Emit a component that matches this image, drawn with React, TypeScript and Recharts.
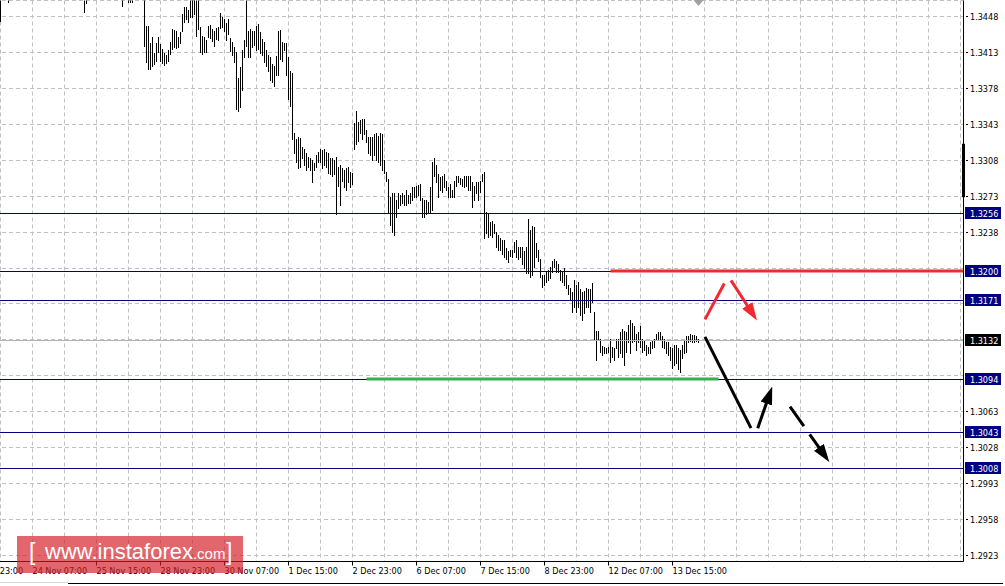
import React from "react";
import {
  ComposedChart,
  Bar,
  Line,
  XAxis,
  YAxis,
  CartesianGrid,
  ReferenceLine,
  ReferenceDot,
} from "recharts";

// ---- hourly bars (USD/CAD, H1): highs and lows, bar index = hour ----
const highs = [
  1.3472, 1.3478, 1.3484, 1.348, 1.3476, 1.3482, 1.3488, 1.349, 1.3486, 1.3492,
  1.3498, 1.3495, 1.3502, 1.3507, 1.3504, 1.351, 1.3513, 1.3508, 1.3505, 1.35,
  1.3503, 1.3509, 1.3512, 1.3506, 1.3501, 1.3497, 1.3494, 1.3499, 1.3496, 1.3491,
  1.3487, 1.3493, 1.3497, 1.3494, 1.3489, 1.3485, 1.3488, 1.3483, 1.3486, 1.3481,
  1.3484, 1.3479, 1.3477, 1.3474, 1.348, 1.3486, 1.3491, 1.3495, 1.3489, 1.3493,
  1.3499, 1.3502, 1.3497, 1.3492, 1.3487, 1.349, 1.3485, 1.3482, 1.3488, 1.3484,
  1.3479, 1.3475, 1.3481, 1.3478, 1.3474, 1.3473, 1.3476, 1.3483, 1.3489, 1.3486,
  1.3481, 1.3477, 1.3478, 1.3438, 1.3438, 1.3422, 1.3428, 1.3412, 1.3422, 1.3428,
  1.3421, 1.3416, 1.3412, 1.341, 1.3415, 1.3423, 1.3435, 1.3434, 1.3433, 1.3428,
  1.3432, 1.345, 1.3457, 1.3457, 1.3454, 1.3468, 1.347, 1.3466, 1.3472, 1.3467,
  1.3437, 1.3429, 1.3428, 1.3425, 1.3438, 1.3439, 1.3435, 1.3433, 1.3436, 1.3437,
  1.3451, 1.3447, 1.3445, 1.3441, 1.3445, 1.3427, 1.3423, 1.3418, 1.3413, 1.3388,
  1.3398, 1.3415, 1.3425, 1.3468, 1.3433, 1.3435, 1.3433, 1.3433, 1.3438, 1.344,
  1.3432, 1.3426, 1.3423, 1.3415, 1.341, 1.3408, 1.3401, 1.3399, 1.3409, 1.3433,
  1.3434, 1.3423, 1.3422, 1.3422, 1.3408, 1.3394, 1.3392, 1.3334, 1.3328, 1.333,
  1.3329, 1.332, 1.3318, 1.3315, 1.3311, 1.331, 1.3308, 1.3305, 1.3313, 1.3316,
  1.3318, 1.3317, 1.3318, 1.3316, 1.3315, 1.331, 1.331, 1.3308, 1.3311, 1.3301,
  1.3303, 1.33, 1.3298, 1.33, 1.3301, 1.3296, 1.3295, 1.3344, 1.3355, 1.3345,
  1.3347, 1.3348, 1.3348, 1.3337, 1.333, 1.333, 1.333, 1.3333, 1.3334, 1.3331,
  1.3334, 1.3333, 1.3308, 1.3296, 1.3289, 1.3272, 1.3276, 1.3276, 1.3269, 1.3276,
  1.3274, 1.3276, 1.3274, 1.3279, 1.3274, 1.3276, 1.3281, 1.3281, 1.3282, 1.3283,
  1.3284, 1.3271, 1.3269, 1.3269, 1.3267, 1.3281, 1.3306, 1.331, 1.3303, 1.3294,
  1.3291, 1.3292, 1.3294, 1.3287, 1.3281, 1.3284, 1.3279, 1.3287, 1.3292, 1.3292,
  1.329, 1.3289, 1.3292, 1.3292, 1.3292, 1.3292, 1.3286, 1.3282, 1.3286, 1.3286,
  1.3287, 1.3294, 1.3296, 1.3257, 1.3255, 1.3247, 1.3248, 1.3245, 1.3238, 1.3235,
  1.3232, 1.323, 1.323, 1.3222, 1.3219, 1.322, 1.322, 1.3228, 1.323, 1.3223,
  1.3223, 1.3223, 1.3219, 1.3223, 1.325, 1.324, 1.3243, 1.3242, 1.3227, 1.322,
  1.3211, 1.3196, 1.3196, 1.3199, 1.3201, 1.3204, 1.3209, 1.3211, 1.3209, 1.3206,
  1.3201, 1.3199, 1.3203, 1.3196, 1.3186, 1.3183, 1.3179, 1.3191, 1.3186, 1.3189,
  1.3182, 1.3179, 1.318, 1.3183, 1.3182, 1.3182, 1.3188, 1.316, 1.3141, 1.3141,
  1.3133, 1.3127, 1.3126, 1.3125, 1.3126, 1.3133, 1.3126, 1.3125, 1.3133, 1.3133,
  1.314, 1.3143, 1.3141, 1.314, 1.3147, 1.3152, 1.3149, 1.3146, 1.3138, 1.314,
  1.3146, 1.3133, 1.3131, 1.3128, 1.3126, 1.313, 1.3131, 1.3133, 1.3138, 1.314,
  1.314, 1.3136, 1.3133, 1.313, 1.313, 1.3126, 1.3125, 1.3128, 1.3128, 1.3125,
  1.3123, 1.3128, 1.3131, 1.3136, 1.3136, 1.3138, 1.3137, 1.3137, 1.3136, 1.3133,
];

const lows = [
  1.3443, 1.3466, 1.347, 1.3469, 1.3462, 1.3468, 1.3474, 1.3477, 1.3473, 1.3478,
  1.3483, 1.3481, 1.3486, 1.349, 1.3492, 1.3495, 1.3497, 1.3494, 1.3489, 1.3486,
  1.349, 1.3493, 1.3498, 1.3491, 1.3487, 1.3482, 1.348, 1.3484, 1.3479, 1.3476,
  1.3473, 1.3478, 1.3483, 1.3481, 1.3475, 1.3472, 1.3474, 1.347, 1.3471, 1.3468,
  1.3469, 1.3467, 1.3452, 1.3461, 1.3467, 1.3472, 1.3476, 1.348, 1.3475, 1.3478,
  1.3484, 1.3487, 1.3483, 1.3477, 1.3473, 1.3476, 1.3471, 1.3468, 1.3472, 1.347,
  1.3466, 1.3458, 1.3467, 1.3466, 1.3462, 1.3462, 1.3462, 1.3469, 1.3474, 1.3471,
  1.3467, 1.3466, 1.3419, 1.3403, 1.3396, 1.3396, 1.3399, 1.3401, 1.3404, 1.3413,
  1.3404, 1.3402, 1.34, 1.3402, 1.3404, 1.3411, 1.3416, 1.3418, 1.3417, 1.3418,
  1.3422, 1.3433, 1.3442, 1.3445, 1.3442, 1.3447, 1.3447, 1.345, 1.3429, 1.3435,
  1.3413, 1.3411, 1.3413, 1.3413, 1.3428, 1.3427, 1.3424, 1.3419, 1.3426, 1.3425,
  1.3436, 1.3437, 1.3433, 1.3425, 1.343, 1.3414, 1.341, 1.3403, 1.3357, 1.3355,
  1.3359, 1.3376, 1.3408, 1.3419, 1.3408, 1.3408, 1.3418, 1.342, 1.3415, 1.3416,
  1.3412, 1.341, 1.3403, 1.3399, 1.3394, 1.3386, 1.3384, 1.338, 1.3391, 1.3391,
  1.3406, 1.3404, 1.3415, 1.3391, 1.3367, 1.336, 1.3328, 1.3315, 1.3306, 1.33,
  1.3301, 1.331, 1.3303, 1.3298, 1.3301, 1.3298, 1.3286, 1.3298, 1.3301, 1.3306,
  1.3306, 1.33, 1.3303, 1.3301, 1.3295, 1.3294, 1.3292, 1.3294, 1.3255, 1.3282,
  1.3264, 1.3287, 1.3281, 1.3279, 1.3286, 1.3281, 1.3284, 1.3318, 1.3323, 1.3326,
  1.3334, 1.3328, 1.3333, 1.3325, 1.3315, 1.3313, 1.3308, 1.3313, 1.3308, 1.3306,
  1.3303, 1.3298, 1.3295, 1.3287, 1.3257, 1.3244, 1.3238, 1.3235, 1.3252, 1.3261,
  1.3264, 1.3266, 1.3264, 1.3264, 1.3266, 1.3266, 1.3269, 1.3272, 1.3272, 1.3274,
  1.3269, 1.3252, 1.3252, 1.3255, 1.3257, 1.3257, 1.3259, 1.3292, 1.3286, 1.3272,
  1.3279, 1.3277, 1.3281, 1.3279, 1.3272, 1.3272, 1.3272, 1.3272, 1.3282, 1.3286,
  1.3284, 1.3282, 1.3281, 1.3282, 1.3279, 1.3279, 1.3262, 1.3269, 1.3276, 1.3269,
  1.3277, 1.3287, 1.3232, 1.3237, 1.3233, 1.3235, 1.3233, 1.3237, 1.3223, 1.322,
  1.322, 1.3216, 1.3213, 1.3211, 1.3208, 1.3214, 1.3213, 1.3218, 1.3213, 1.3211,
  1.3213, 1.3206, 1.3203, 1.3198, 1.3198, 1.3194, 1.3196, 1.3204, 1.3213, 1.3209,
  1.3194, 1.3184, 1.3186, 1.3189, 1.3191, 1.3193, 1.3199, 1.3204, 1.3199, 1.3199,
  1.3191, 1.3189, 1.3186, 1.3183, 1.3177, 1.3172, 1.316, 1.3165, 1.316, 1.3165,
  1.3157, 1.3152, 1.3159, 1.3165, 1.3165, 1.316, 1.3169, 1.3133, 1.3113, 1.3133,
  1.3121, 1.3118, 1.312, 1.312, 1.3121, 1.3111, 1.3116, 1.3113, 1.3125, 1.3116,
  1.312, 1.3116, 1.3108, 1.3121, 1.313, 1.312, 1.313, 1.3131, 1.3123, 1.313,
  1.3126, 1.3121, 1.3123, 1.3118, 1.312, 1.312, 1.3125, 1.3126, 1.3133, 1.3133,
  1.3133, 1.3126, 1.3125, 1.312, 1.3118, 1.3113, 1.3105, 1.3108, 1.311, 1.3104,
  1.3101, 1.3115, 1.312, 1.3121, 1.313, 1.3131, 1.313, 1.313, 1.3131, 1.313,
];

// ---- axes ----
const priceTicks = [
  1.2923, 1.2958, 1.2993, 1.3028, 1.3063, 1.3098, 1.3133, 1.3168, 1.3203, 1.3238,
  1.3273, 1.3308, 1.3343, 1.3378, 1.3413, 1.3448,
];
const gridBars = [
  -16, 0, 16, 32, 48, 64, 80, 96, 112, 128, 144, 160, 176, 192, 208, 224, 240, 256,
  272, 288, 304, 320, 336, 352, 368, 384, 400, 416, 432, 448, 464, 480,
];
const timeTickBars = [-16, 16, 48, 80, 112, 144, 176, 208, 240, 272, 304, 336];
const timeLabels = [
  "22 Nov 23:00", "24 Nov 07:00", "25 Nov 15:00", "28 Nov 23:00", "30 Nov 07:00",
  "1 Dec 15:00", "2 Dec 23:00", "6 Dec 07:00", "7 Dec 15:00", "8 Dec 23:00",
  "12 Dec 07:00", "13 Dec 15:00",
];

// ---- levels and annotations ----
const navyLevels = [1.3256, 1.32, 1.3171, 1.3094, 1.3043, 1.3008];
const bidPrice = 1.3132;
const resistance = { price: 1.32, from: 305, to: 481.5 };
const support = { price: 1.3095, from: 183, to: 359 };
const redUp = [{ i: 352.25, p: 1.3153 }, { i: 361.9, p: 1.3188 }];
const redDown = [{ i: 365.25, p: 1.3191 }, { i: 376.9, p: 1.3156 }];
const blackDown = [{ i: 352.25, p: 1.3136 }, { i: 375.25, p: 1.3047 }];
const blackUp = [{ i: 378.6, p: 1.3047 }, { i: 385.05, p: 1.3083 }];
const blackDashed = [{ i: 394.75, p: 1.3068 }, { i: 412.95, p: 1.3018 }];
const axisMark = { top: 1.3324, bottom: 1.3272 };

const PMAX = 1.3463584;
const PMIN = 1.2917156;
const XMIN = -20.25;
const XMAX = 481.5;

const FONT = "'DejaVu Sans Condensed', 'Liberation Sans', Arial, sans-serif";
const LOGO_FONT = "'Liberation Sans', Arial, sans-serif";
const NAVY = "#000080";
const RED = "#f02a30";
const GREEN = "#38b04c";
const GRID = "#c0c0c0";

const W = 1005;
const H = 586;
const PAD = 40;

const labelledPrices = [...navyLevels, bidPrice];

const BarShape = (p: any) => {
  if (p.x == null || p.y == null || p.height == null) return <g />;
  const top = Math.min(p.y, p.y + p.height);
  const bot = Math.max(p.y, p.y + p.height);
  const cx = Math.floor(p.x + p.width / 2);
  const y1 = Math.floor(top);
  const y2 = Math.floor(bot);
  return <rect x={cx} y={y1} width={1} height={Math.max(1, y2 - y1 + 1)} fill="#000" />;
};

const crispH = (color: string) => (p: any) => {
  const y = Math.floor(p.y1) + 0.5;
  return <line x1={p.x1} x2={p.x2} y1={y} y2={y} stroke={color} strokeWidth={1} />;
};

const gridH = (p: any) => {
  const y = Math.floor(p.y1) + 0.5;
  return (
    <line
      key={`gh-${p.index}-${y}`}
      x1={p.x1}
      x2={p.x2}
      y1={y}
      y2={y}
      stroke={GRID}
      strokeDasharray="4 3"
    />
  );
};

const TimeTick = (p: any) => {
  const idx = timeTickBars.indexOf(p.payload?.value);
  if (idx < 0) return <g />;
  return (
    <g>
      <line x1={p.x} x2={p.x} y1={p.y} y2={p.y + 4} stroke="#000" />
      <text x={p.x} y={p.y + 12.5} fontSize={9} fontFamily={FONT} fill="#000" textAnchor="start">
        {timeLabels[idx]}
      </text>
    </g>
  );
};

const PriceTick = (p: any) => {
  const y = Math.floor(p.y) + 0.5;
  const v = Number(p.payload?.value);
  // labels that sit under a level box are covered in the original
  const covered = labelledPrices.some((lp) => Math.abs(lp - v) < 0.00055);
  return (
    <g>
      <line x1={p.x + 2.5} x2={p.x + 4.5} y1={y} y2={y} stroke="#000" />
      {covered ? null : (
        <text x={p.x + 6.5} y={y} dy="0.36em" fontSize={9} fontFamily={FONT} fill="#000" textAnchor="start">
          {v.toFixed(4)}
        </text>
      )}
    </g>
  );
};

const levelLabel = (bg: string, txt: string) => (props: any) => {
  const vb = props.viewBox || {};
  const right = (vb.x ?? 0) + (vb.width ?? 0);
  const y = Math.floor(vb.y ?? 0) + 0.5;
  return (
    <g>
      <rect x={right + 1.5} y={y - 6.5} width={36} height={12} fill={bg} />
      <text x={right + 6.5} y={y} dy="0.36em" fontSize={9} fontFamily={FONT} fill="#fff" textAnchor="start">
        {txt}
      </text>
    </g>
  );
};

export default function App() {
  const data = highs.map((h, i) => ({ i, range: [lows[i], h] }));
  const lastBar = highs.length - 1;

  return (
    <div
      style={{
        position: "absolute",
        left: 0,
        top: 0,
        width: W,
        height: H,
        overflow: "hidden",
        background: "#fff",
        fontFamily: FONT,
      }}
    >
      <svg width={0} height={0} style={{ position: "absolute" }}>
        <defs>
          <marker id="ahRed" viewBox="0 0 18 12" refX={13} refY={6} markerWidth={18} markerHeight={12} markerUnits="userSpaceOnUse" orient="auto">
            <path d="M0,0 L18,6 L0,12 Z" fill={RED} />
          </marker>
          <marker id="ahBlack" viewBox="0 0 18 12" refX={13} refY={6} markerWidth={18} markerHeight={12} markerUnits="userSpaceOnUse" orient="auto">
            <path d="M0,0 L18,6 L0,12 Z" fill="#000" />
          </marker>
        </defs>
      </svg>
      <div style={{ position: "absolute", left: -PAD, top: 0 }}>
        <ComposedChart
          width={W + PAD}
          height={H}
          data={data}
          margin={{ top: 0.5, right: 0, bottom: 0, left: 0 }}
        >
          <CartesianGrid stroke={GRID} strokeDasharray="4 3" horizontal={gridH} vertical={true} />
          <XAxis
            dataKey="i"
            type="number"
            domain={[XMIN, XMAX]}
            allowDataOverflow
            ticks={gridBars}
            interval={0}
            height={24.5}
            tickLine={false}
            tickSize={0}
            tickMargin={0}
            axisLine={{ stroke: "#000" }}
            tick={<TimeTick />}
          />
          <XAxis
            xAxisId="top"
            orientation="top"
            type="number"
            domain={[XMIN, XMAX]}
            allowDataOverflow
            height={0}
            tick={false}
            tickLine={false}
            axisLine={{ stroke: "#000" }}
          />
          <YAxis
            orientation="right"
            type="number"
            domain={[PMIN, PMAX]}
            allowDataOverflow
            ticks={priceTicks}
            interval={0}
            width={41.5}
            tickLine={false}
            tickSize={0}
            tickMargin={0}
            axisLine={{ stroke: "#000" }}
            tick={<PriceTick />}
          />

          <ReferenceLine
            y={bidPrice}
            stroke="#b4b4b4"
            shape={crispH("#b4b4b4")}
            label={levelLabel("#000", bidPrice.toFixed(4))}
          />
          {navyLevels.map((lv) => (
            <ReferenceLine
              key={`lv-${lv}`}
              y={lv}
              stroke={NAVY}
              shape={crispH(NAVY)}
              label={levelLabel(NAVY, lv.toFixed(4))}
            />
          ))}

          <Bar dataKey="range" barSize={1} isAnimationActive={false} shape={BarShape} fill="#000" />

          <ReferenceLine
            segment={[
              { x: support.from, y: support.price },
              { x: support.to, y: support.price },
            ]}
            stroke={GREEN}
            strokeWidth={3}
          />
          <ReferenceLine
            segment={[
              { x: resistance.from, y: resistance.price },
              { x: resistance.to, y: resistance.price },
            ]}
            stroke={RED}
            strokeWidth={3}
          />
          <ReferenceLine
            segment={[
              { x: XMAX, y: axisMark.top },
              { x: XMAX, y: axisMark.bottom },
            ]}
            stroke="#000"
            strokeWidth={3}
            ifOverflow="visible"
          />
          <ReferenceDot
            x={lastBar}
            y={PMAX}
            ifOverflow="visible"
            shape={(p: any) => (
              <polygon
                points={`${p.cx - 5},${p.cy - 0.5} ${p.cx + 5},${p.cy - 0.5} ${p.cx},${p.cy + 5.5}`}
                fill="#a0a0a0"
              />
            )}
          />

          <Line data={redUp} dataKey="p" stroke={RED} strokeWidth={3} dot={false} activeDot={false} isAnimationActive={false} legendType="none" />
          <Line data={redDown} dataKey="p" stroke={RED} strokeWidth={3} dot={false} activeDot={false} isAnimationActive={false} legendType="none" markerEnd="url(#ahRed)" />
          <Line data={blackDown} dataKey="p" stroke="#000" strokeWidth={3} dot={false} activeDot={false} isAnimationActive={false} legendType="none" />
          <Line data={blackUp} dataKey="p" stroke="#000" strokeWidth={3} dot={false} activeDot={false} isAnimationActive={false} legendType="none" markerEnd="url(#ahBlack)" />
          <Line data={blackDashed} dataKey="p" stroke="#000" strokeWidth={3} strokeDasharray="24 10 40" dot={false} activeDot={false} isAnimationActive={false} legendType="none" markerEnd="url(#ahBlack)" />
        </ComposedChart>
      </div>

      {/* window frame below the time scale */}
      <div style={{ position: "absolute", left: 0, top: 582, width: 68, height: 1, background: "#d8d8d8" }} />
      <div style={{ position: "absolute", left: 68, top: 583, width: 935, height: 1, background: "#000" }} />

      <div
        style={{
          position: "absolute",
          left: 17,
          top: 536,
          width: 226,
          height: 37,
          background: "rgba(212, 30, 38, 0.68)",
          color: "#fff",
          fontFamily: LOGO_FONT,
          whiteSpace: "nowrap",
        }}
      >
        <span style={{ position: "absolute", left: 12, top: 5, fontSize: 23, lineHeight: "22px" }}>[</span>
        <span style={{ position: "absolute", left: 28, top: 5, fontSize: 22, lineHeight: "22px" }}>
          www.instaforex<span style={{ fontSize: 15 }}>.com</span>
        </span>
        <span style={{ position: "absolute", left: 209, top: 5, fontSize: 23, lineHeight: "22px" }}>]</span>
      </div>
    </div>
  );
}
